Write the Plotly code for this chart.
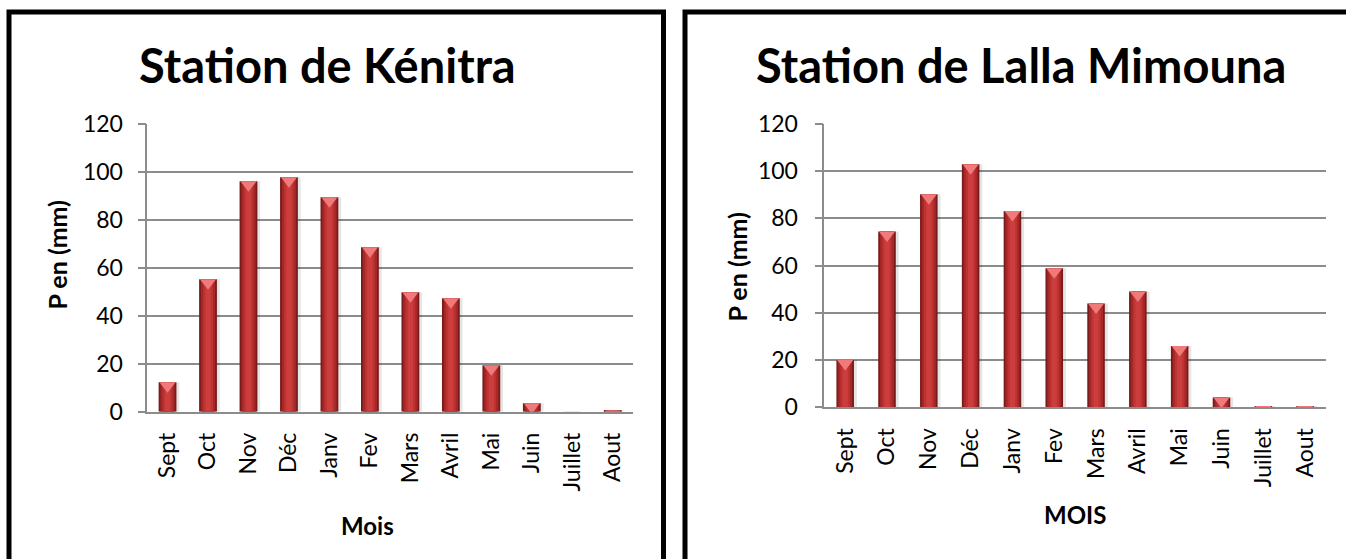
import plotly.graph_objects as go

# ---------------- data ----------------
months = ["Sept", "Oct", "Nov", "Déc", "Janv", "Fev", "Mars", "Avril", "Mai", "Juin", "Juillet", "Aout"]
kenitra = [12.3, 55.2, 96.1, 97.8, 89.4, 68.6, 49.8, 47.3, 19.4, 3.5, 0.0, 0.5]
lalla = [20.0, 74.5, 90.2, 103.0, 83.1, 58.9, 44.0, 49.1, 26.0, 4.2, 0.5, 0.5]
y_ticks = [0, 20, 40, 60, 80, 100, 120]
titles = ["Station de Kénitra", "Station de Lalla Mimouna"]
x_titles = ["Mois", "MOIS"]
y_title = "P en (mm)"

# ---------------- layout helpers ----------------
W, H = 1346, 559


def px(x):
    return x / W


def py(y):
    return 1 - y / H


GRID = "#8C8C8C"
FONT = "Lato, 'Open Sans', sans-serif"

panels = [
    dict(vals=kenitra, xa="x", ya="y", xdom=[px(147.3), px(633)], ydom=[py(411.7), py(124)],
         w=0.44, title=titles[0], tx=327, ty=65, xt=x_titles[0], xtx=368, xty=525, ytx=56.5, yty=255),
    dict(vals=lalla, xa="x2", ya="y2", xdom=[px(824.3), px(1326)], ydom=[py(407.3), py(124)],
         w=0.42, title=titles[1], tx=1021, ty=65, xt=x_titles[1], xtx=1075, xty=514, ytx=736.5, yty=267),
]

fig = go.Figure()

layers = [(1.0, "#7A1B1B"), (0.8, "#A52828"), (0.55, "#BD3232"), (0.3, "#CC3E3E")]

annotations = []
for p in panels:
    vals = p["vals"]
    w = p["w"]
    # soft shadow
    fig.add_trace(go.Bar(x=months, y=vals, width=w, offset=-w / 2 + 0.07, xaxis=p["xa"], yaxis=p["ya"],
                         marker=dict(color="rgba(0,0,0,0.10)", line=dict(width=0)), showlegend=False,
                         hoverinfo="skip"))
    for frac, col in layers:
        fig.add_trace(go.Bar(x=months, y=vals, width=w * frac, xaxis=p["xa"], yaxis=p["ya"],
                             marker=dict(color=col, line=dict(width=0)), showlegend=False))
    # pink chevron at the top of each bar
    plot_h_px = (p["ydom"][1] - p["ydom"][0]) * H
    unit_px = plot_h_px / 120.0
    msize = 14
    shift = (msize / 4.0) / unit_px
    fig.add_trace(go.Scatter(x=months, y=[v - shift for v in vals], mode="markers", xaxis=p["xa"], yaxis=p["ya"],
                             marker=dict(symbol="triangle-down", size=msize, color="#F07A7A", line=dict(width=0)),
                             cliponaxis=True, showlegend=False, hoverinfo="skip"))

    annotations.append(dict(text="<b>%s</b>" % p["title"], x=px(p["tx"]), y=py(p["ty"]), xref="paper", yref="paper",
                            showarrow=False, xanchor="center", yanchor="middle",
                            font=dict(family=FONT, size=47, color="black")))
    annotations.append(dict(text="<b>%s</b>" % p["xt"], x=px(p["xtx"]), y=py(p["xty"]), xref="paper", yref="paper",
                            showarrow=False, xanchor="center", yanchor="middle",
                            font=dict(family=FONT, size=24, color="black")))
    annotations.append(dict(text="<b>%s</b>" % y_title, x=px(p["ytx"]), y=py(p["yty"]), xref="paper", yref="paper",
                            showarrow=False, xanchor="center", yanchor="middle", textangle=-90,
                            font=dict(family=FONT, size=25, color="black")))

axis_common_x = dict(type="category", range=[-0.5, 11.5], autorange=False, tickangle=-90, showgrid=False,
                     showline=True, linecolor=GRID, linewidth=1.5, automargin=False,
                     ticks="", tickfont=dict(family=FONT, size=23, color="black"), ticklabelstandoff=10,
                     fixedrange=True)
axis_common_y = dict(range=[0, 120], autorange=False, tickvals=y_ticks, showgrid=True, gridcolor=GRID, gridwidth=1.5,
                     showline=True, linecolor=GRID, linewidth=1.5, ticks="outside", ticklen=8, tickwidth=1.5,
                     tickcolor=GRID, zeroline=False, tickfont=dict(family=FONT, size=23, color="black"),
                     automargin=False, fixedrange=True)

fig.update_layout(
    width=W, height=H, margin=dict(l=0, r=0, t=0, b=0, pad=0, autoexpand=False), autosize=False,
    paper_bgcolor="white", plot_bgcolor="white", barmode="overlay", showlegend=False,
    xaxis=dict(domain=panels[0]["xdom"], anchor="y", **axis_common_x),
    yaxis=dict(domain=panels[0]["ydom"], anchor="x", ticklabelstandoff=10, **axis_common_y),
    xaxis2=dict(domain=panels[1]["xdom"], anchor="y2", **axis_common_x),
    yaxis2=dict(domain=panels[1]["ydom"], anchor="x2", ticklabelstandoff=12, **axis_common_y),
    annotations=annotations,
    shapes=[
        dict(type="rect", xref="paper", yref="paper", x0=px(9), x1=px(663.5), y0=py(600), y1=py(12),
             line=dict(color="black", width=5), fillcolor="rgba(0,0,0,0)", layer="above"),
        dict(type="rect", xref="paper", yref="paper", x0=px(685), x1=px(1400), y0=py(600), y1=py(12),
             line=dict(color="black", width=5), fillcolor="rgba(0,0,0,0)", layer="above"),
    ],
)

fig.write_html("out.html")
